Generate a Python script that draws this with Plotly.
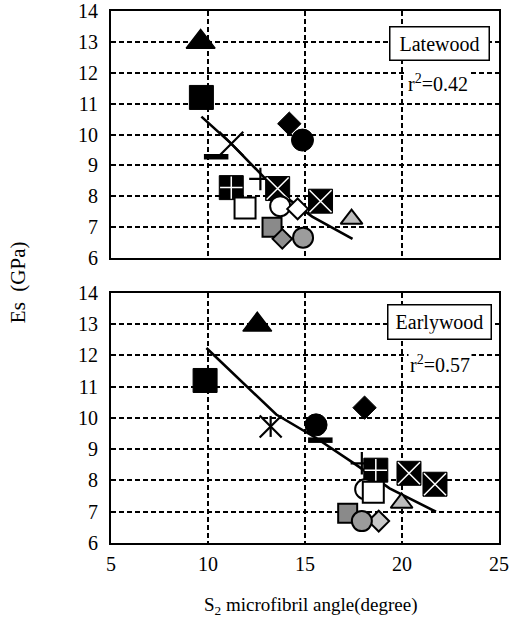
import plotly.graph_objects as go

# ---------------- data ----------------
# marker series, same order in both panels
series = ["tri", "sq", "bar", "x", "dia", "circ", "sqplus", "plus", "osq",
          "sqx1", "ocirc", "odia", "sqx2", "gsq", "gdia", "gcirc", "gtri"]

late_x = [9.62, 9.66, 10.42, 11.2, 14.19, 14.87, 11.2, 12.7, 11.91,
          13.59, 13.72, 14.62, 15.8, 13.3, 13.83, 14.9, 17.4]
late_y = [13.0, 11.2, 9.28, 9.7, 10.35, 9.82, 8.28, 8.56, 7.62,
          8.25, 7.68, 7.59, 7.84, 7.0, 6.62, 6.66, 7.26]

early_x = [12.54, 9.85, 15.79, 13.23, 18.07, 15.57, 18.65, 17.93, 18.52,
           20.36, 18.1, 18.8, 21.7, 17.2, 18.8, 17.93, 19.98]
early_y = [12.98, 11.2, 9.29, 9.73, 10.33, 9.78, 8.33, 8.55, 7.62,
           8.23, 7.72, 6.7, 7.88, 6.95, 6.7, 6.7, 7.28]

# regression curves
late_fit_x = [9.66, 11.17, 12.68, 13.52, 15.37, 17.45]
late_fit_y = [10.58, 9.72, 8.75, 8.2, 7.34, 6.62]
early_fit_x = [9.92, 13.52, 15.57, 17.64, 19.36, 21.75]
early_fit_y = [12.24, 10.11, 9.36, 8.5, 7.75, 7.0]

panel_labels = ["Latewood", "Earlywood"]
r2_labels = ["r<sup>2</sup>=0.42", "r<sup>2</sup>=0.57"]

x_ticks = [5, 10, 15, 20, 25]
y_ticks = [6, 7, 8, 9, 10, 11, 12, 13, 14]

# ---------------- styles ----------------
FONT = "Liberation Serif"
BLK = "black"

# list of marker layers per series: (symbol, size, fill, line colour, line width)
def styles(name, panel):
    if name == "tri":
        return [("triangle-up", 25, BLK, BLK, 1.5)]
    if name == "sq":
        return [("square", 24, BLK, BLK, 1)]
    if name == "bar":
        return [("line-ew", 17.5, BLK, BLK, 5.5)]
    if name == "x":
        if panel == 0:
            return [("x-thin", 24, BLK, BLK, 2.2)]
        return [("x-thin", 22, BLK, BLK, 2.2), ("line-ns", 15, BLK, BLK, 2.2)]
    if name == "dia":
        return [("diamond", 18, BLK, BLK, 1)]
    if name == "circ":
        return [("circle", 22, BLK, BLK, 1)]
    if name == "sqplus":
        return [("square", 24, BLK, BLK, 1), ("cross-thin", 16, BLK, "white", 1.5)]
    if name == "plus":
        return [("cross-thin", 16, BLK, BLK, 2.2)]
    if name == "osq":
        return [("square", 21, "white", BLK, 2)]
    if name in ("sqx1", "sqx2"):
        return [("square", 24, BLK, BLK, 1), ("x-thin", 22, BLK, "white", 1.5)]
    if name == "ocirc":
        return [("circle", 20, "white", BLK, 2)]
    if name == "odia":
        if panel == 0:
            return [("diamond", 16, "white", BLK, 2)]
        return [("diamond", 16, "#c8c8c8", BLK, 2)]
    if name == "gsq":
        return [("square", 19, "#8a8a8a", BLK, 2)]
    if name == "gdia":
        return [("diamond", 15, "#8f8f8f", BLK, 2)]
    if name == "gcirc":
        return [("circle", 20, "#9c9c9c", BLK, 2)]
    if name == "gtri":
        return [("triangle-up", 19, "#bdbdbd", BLK, 2)]
    return []

# drawing order (later = on top)
order = ["gtri", "sq", "tri", "x", "dia", "circ", "bar", "plus", "sqplus",
         "osq", "sqx1", "ocirc", "odia", "sqx2", "gsq", "gdia", "gcirc"]
order_early = ["gtri", "sq", "tri", "x", "dia", "circ", "bar", "plus", "sqplus",
               "ocirc", "osq", "sqx1", "sqx2", "gsq", "odia", "gdia", "gcirc"]

fig = go.Figure()

panels = [
    (late_x, late_y, late_fit_x, late_fit_y, "x", "y", order),
    (early_x, early_y, early_fit_x, early_fit_y, "x2", "y2", order_early),
]

for p, (xs, ys, fx, fy, xa, ya, ordr) in enumerate(panels):
    fig.add_trace(go.Scatter(x=fx, y=fy, mode="lines", xaxis=xa, yaxis=ya,
                             line=dict(color=BLK, width=2.6),
                             showlegend=False, hoverinfo="skip"))
    for name in ordr:
        i = series.index(name)
        if p == 1 and name == "gdia":
            continue
        for sym, size, fill, lc, lw in styles(name, p):
            fig.add_trace(go.Scatter(
                x=[xs[i]], y=[ys[i]], mode="markers", xaxis=xa, yaxis=ya,
                marker=dict(symbol=sym, size=size, color=fill,
                            line=dict(color=lc, width=lw)),
                showlegend=False, hoverinfo="skip", cliponaxis=False))

axis_common = dict(
    showline=True, linecolor=BLK, linewidth=2, mirror=True,
    showgrid=True, gridcolor=BLK, gridwidth=1.5, griddash="5px,3px",
    zeroline=False, ticks="", automargin=False,
    tickfont=dict(family=FONT, size=20, color=BLK),
)

fig.update_layout(
    template="none",
    width=517, height=621,
    margin=dict(l=111, r=18, t=11, b=78, autoexpand=False),
    paper_bgcolor="white", plot_bgcolor="white",
    xaxis=dict(range=[5, 25], tickvals=x_ticks, showticklabels=False,
               anchor="y", matches="x2", **axis_common),
    xaxis2=dict(range=[5, 25], tickvals=x_ticks, anchor="y2",
                ticklabelstandoff=2, **axis_common),
    yaxis=dict(range=[6, 14], tickvals=y_ticks, domain=[0.5357, 1.0],
               anchor="x", ticklabelstandoff=7, **axis_common),
    yaxis2=dict(range=[6, 14], tickvals=y_ticks, domain=[0.0, 0.47],
                anchor="x2", ticklabelstandoff=7, **axis_common),
    showlegend=False,
)

# panel label boxes and r^2 text
box_pos = [(21.95, 12.95, "x", "y"), (21.95, 13.06, "x2", "y2")]
r2_pos = [(21.85, 11.67, "x", "y"), (21.95, 11.73, "x2", "y2")]
for k in range(2):
    bx, by, xr, yr = box_pos[k]
    fig.add_annotation(x=bx, y=by, xref=xr, yref=yr, text=panel_labels[k],
                       showarrow=False, bgcolor="white", bordercolor=BLK,
                       borderwidth=1.5, borderpad=5, width=88 if k == 0 else 92,
                       font=dict(family=FONT, size=20, color=BLK))
    rx, ry, xr, yr = r2_pos[k]
    fig.add_annotation(x=rx, y=ry, xref=xr, yref=yr, text=r2_labels[k],
                       showarrow=False, bgcolor="white",
                       font=dict(family=FONT, size=20, color=BLK))

# axis titles
fig.add_annotation(x=0.515, y=-0.118, xref="paper", yref="paper",
                   text="S<sub>2</sub> microfibril angle(degree)",
                   showarrow=False, xanchor="center", yanchor="middle",
                   font=dict(family=FONT, size=19, color=BLK))
fig.add_annotation(x=-0.24, y=0.49, xref="paper", yref="paper",
                   text="Es&nbsp; (GPa)", textangle=-90, showarrow=False,
                   xanchor="center", yanchor="middle",
                   font=dict(family=FONT, size=21, color=BLK))

fig.write_html(
    "out.html",
    config={"displayModeBar": False},
    post_script="document.body.style.margin='0';document.body.style.padding='0';"
                "document.body.style.overflow='hidden';",
)
